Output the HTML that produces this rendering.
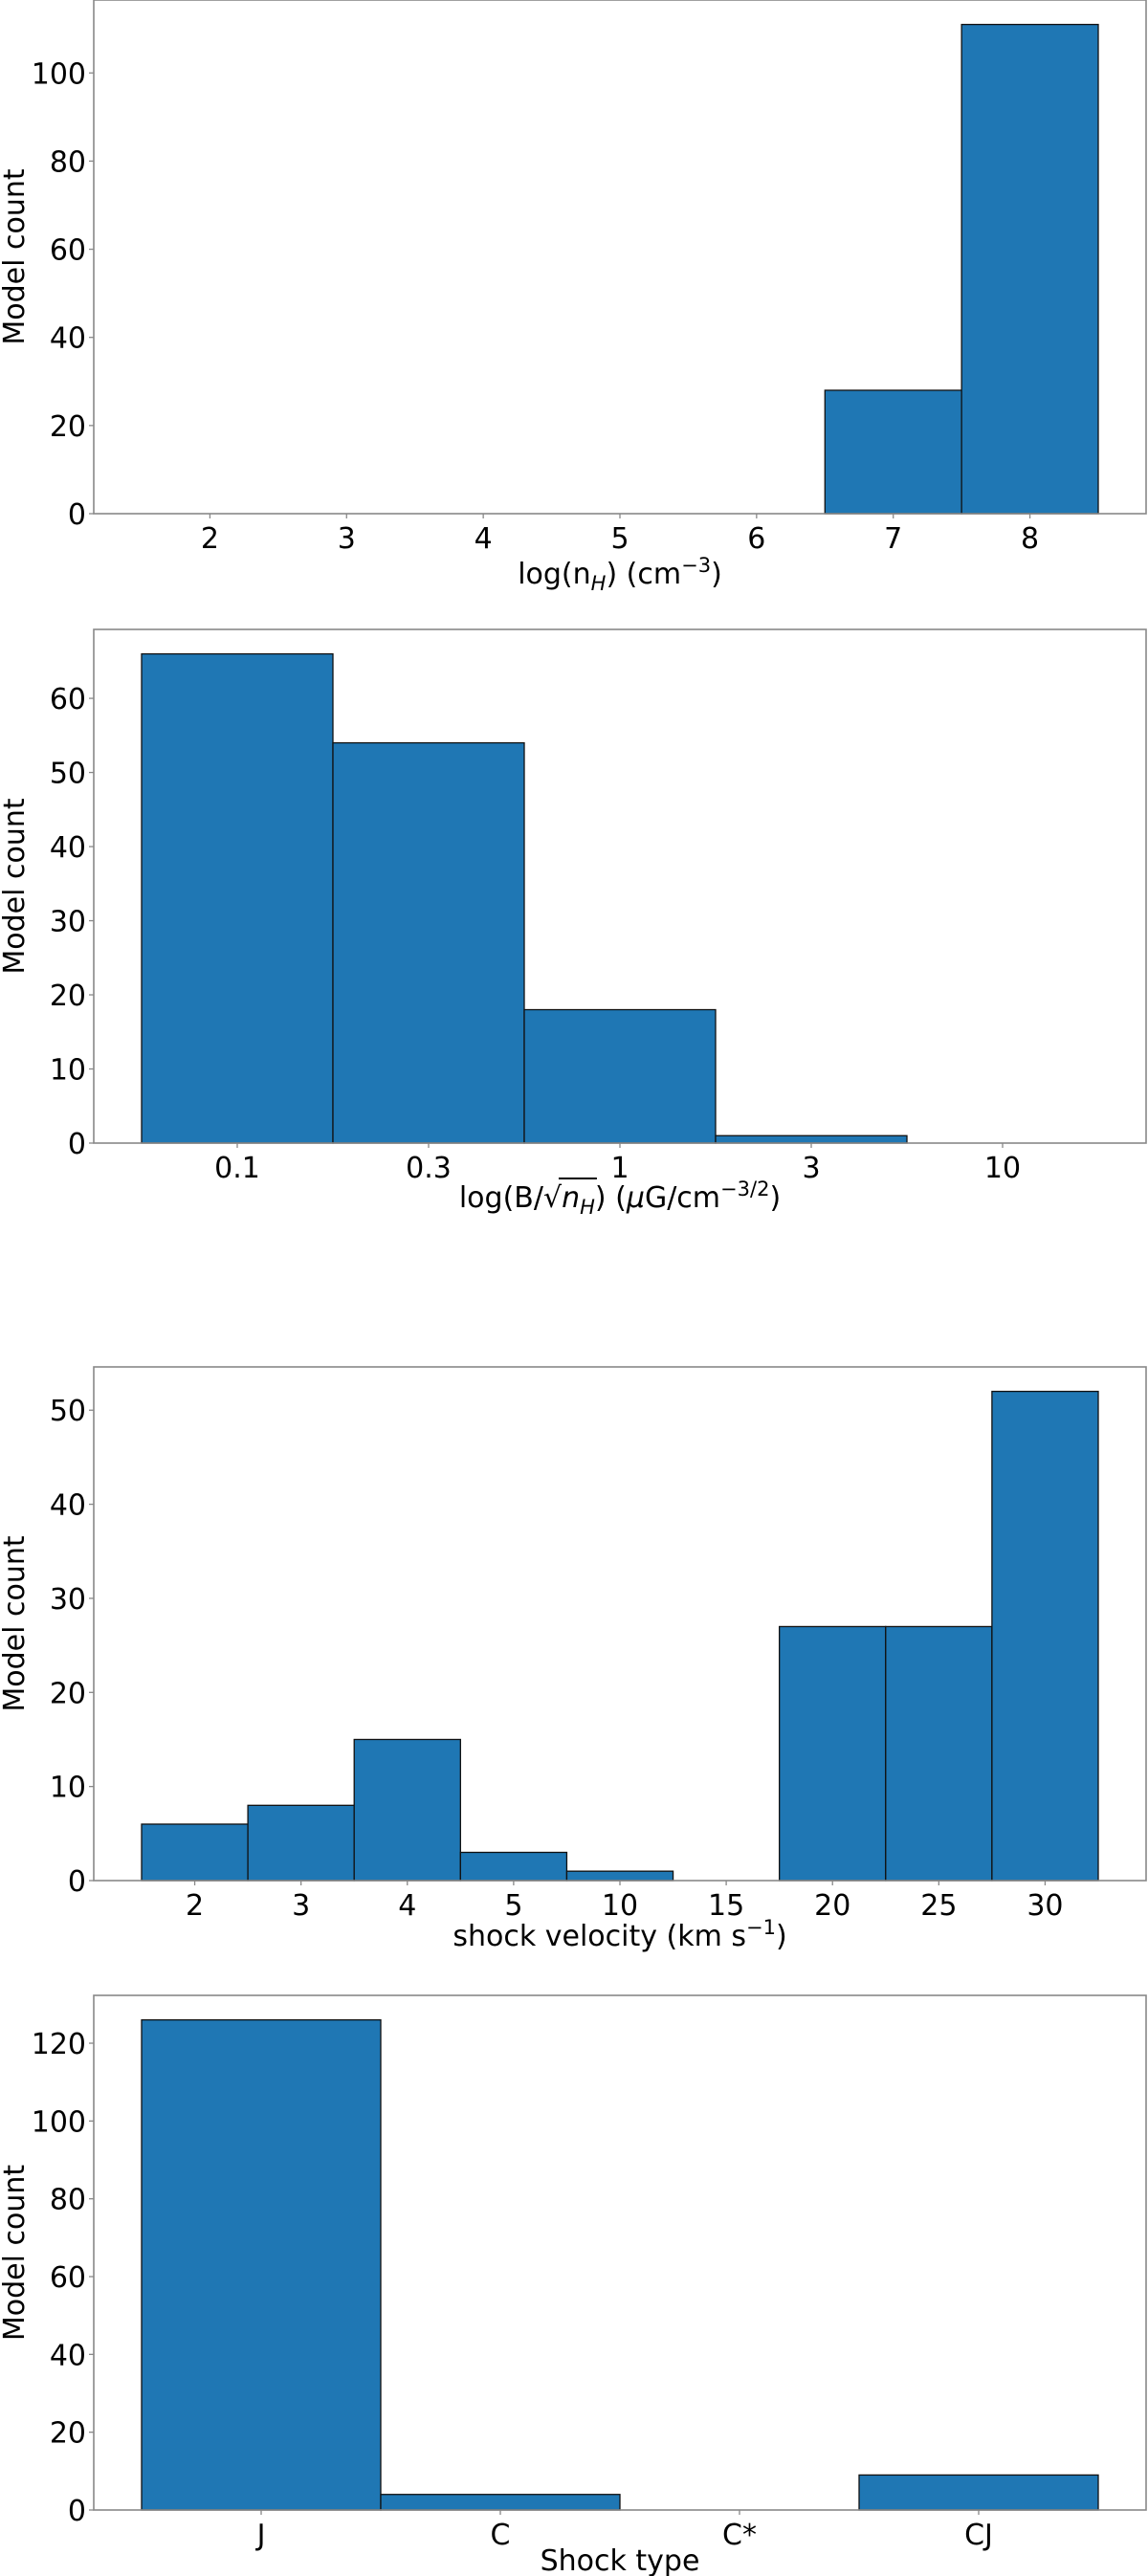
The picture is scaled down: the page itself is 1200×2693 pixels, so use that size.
<!DOCTYPE html>
<html><head><meta charset="utf-8"><style>
html,body{margin:0;padding:0;background:#fff}
svg{display:block;font-family:"DejaVu Sans","Liberation Sans",sans-serif}
</style></head><body>
<svg id="fig" width="1200" height="2693" viewBox="0 0 1200 2693" xmlns="http://www.w3.org/2000/svg"></svg>
<script>
// Panel 1: density
const p1Categories = [7, 8];
const p1Values = [28, 111];
const p1Ticks = [2, 3, 4, 5, 6, 7, 8];
const p1YTicks = [0, 20, 40, 60, 80, 100];
// Panel 2: magnetic parameter
const p2Categories = ["0.1", "0.3", "1", "3", "10"];
const p2Values = [66, 54, 18, 1, 0];
const p2YTicks = [0, 10, 20, 30, 40, 50, 60];
// Panel 3: shock velocity
const p3Categories = ["2", "3", "4", "5", "10", "15", "20", "25", "30"];
const p3Values = [6, 8, 15, 3, 1, 0, 27, 27, 52];
const p3YTicks = [0, 10, 20, 30, 40, 50];
// Panel 4: shock type
const p4Categories = ["J", "C", "C*", "CJ"];
const p4Values = [126, 4, 0, 9];
const p4YTicks = [0, 20, 40, 60, 80, 100, 120];

const NS = "http://www.w3.org/2000/svg";
const svg = document.getElementById("fig");
function mk(tag, attrs, parent) {
  const e = document.createElementNS(NS, tag);
  for (const k in attrs) e.setAttribute(k, attrs[k]);
  (parent || svg).appendChild(e);
  return e;
}
const L = 98, R = 1198;

function panel(id, top, bottom, xmin, xmax, bars, tickPos, tickLabels, yTicks, ymax, xlabelHTML, xlabelY) {
  const g = mk("g", {});
  
  
  const sx = v => L + (v - xmin) / (xmax - xmin) * (R - L);
  const sy = v => bottom - v / ymax * (bottom - top);
  bars.forEach(b => {
    if (b.v <= 0) return;
    const r = mk("rect", {x: sx(b.x0), y: sy(b.v), width: sx(b.x1) - sx(b.x0), height: bottom - sy(b.v),
      fill: "#1f77b4", stroke: "#111", "stroke-width": 1.3}, g);
    
    
  });
  const frame = mk("rect", {x: L, y: top, width: R - L, height: bottom - top, fill: "none", stroke: "#888", "stroke-width": 1.6}, g);
  
  
  yTicks.forEach(t => {
    const y = sy(t);
    mk("line", {x1: L - 5, x2: L, y1: y, y2: y, stroke: "#888", "stroke-width": 1.3}, g);
    const tx = mk("text", {x: L - 8, y: y + 11, "font-size": 30, "text-anchor": "end", fill: "#000"}, g);
    tx.textContent = t;
    
    
  });
  tickPos.forEach((p, i) => {
    const x = sx(p);
    mk("line", {x1: x, x2: x, y1: bottom, y2: bottom + 5, stroke: "#888", "stroke-width": 1.3}, g);
    const tx = mk("text", {x: x, y: bottom + 36, "font-size": 30, "text-anchor": "middle", fill: "#000"}, g);
    tx.textContent = tickLabels[i];
    
    
  });
  const cy = (top + bottom) / 2;
  const yl = mk("text", {x: 0, y: 0, "font-size": 30, "text-anchor": "middle", fill: "#000",
    transform: "translate(25," + cy + ") rotate(-90)"}, g);
  yl.textContent = "Model count";
  
  
  const xl = mk("text", {x: (L + R) / 2, y: xlabelY, "font-size": 30, "text-anchor": "middle", fill: "#000"}, g);
  xl.innerHTML = xlabelHTML;
  
  
  return {g: g, xl: xl};
}

// Panel 1
panel("density", 0, 537, 1.15, 8.85,
  p1Categories.map((c, i) => ({x0: c - 0.5, x1: c + 0.5, v: p1Values[i], name: c})),
  p1Ticks, p1Ticks.map(String), p1YTicks, Math.max(...p1Values) * 1.05,
  'log(n<tspan font-size="21" dy="7" font-style="italic">H</tspan><tspan dy="-7">) (cm</tspan><tspan font-size="21" dy="-12">−3</tspan><tspan dy="12">)</tspan>', 610);

// Panel 2
const mag = panel("magnetic", 658, 1195, -0.75, p2Categories.length - 0.25,
  p2Categories.map((c, i) => ({x0: i - 0.5, x1: i + 0.5, v: p2Values[i], name: c})),
  p2Categories.map((c, i) => i), p2Categories, p2YTicks, Math.max(...p2Values) * 1.05,
  'log(B/√<tspan font-style="italic">n</tspan><tspan font-style="italic" font-size="21" dy="7">H</tspan><tspan dy="-7">) (</tspan><tspan font-style="italic">μ</tspan>G/cm<tspan font-size="21" dy="-12">−3/2</tspan><tspan dy="12">)</tspan>', 1262);
try {
  const x1 = mag.xl.getStartPositionOfChar(6).x + 16;
  const x2 = mag.xl.getEndPositionOfChar(8).x + 2;
  const ol = mk("line", {x1: x1, x2: x2, y1: 1262 - 30, y2: 1262 - 30, stroke: "#000", "stroke-width": 2}, mag.g);
  
  
} catch (e) {}

// Panel 3
panel("velocity", 1429, 1966, -0.95, p3Categories.length - 0.05,
  p3Categories.map((c, i) => ({x0: i - 0.5, x1: i + 0.5, v: p3Values[i], name: c})),
  p3Categories.map((c, i) => i), p3Categories, p3YTicks, Math.max(...p3Values) * 1.05,
  'shock velocity (km s<tspan font-size="21" dy="-12">−1</tspan><tspan dy="12">)</tspan>', 2034);

// Panel 4
panel("shock-type", 2086, 2624, -0.7, p4Categories.length - 0.3,
  p4Categories.map((c, i) => ({x0: i - 0.5, x1: i + 0.5, v: p4Values[i], name: c})),
  p4Categories.map((c, i) => i), p4Categories, p4YTicks, Math.max(...p4Values) * 1.05,
  'Shock type', 2687);
</script>
</body></html>
